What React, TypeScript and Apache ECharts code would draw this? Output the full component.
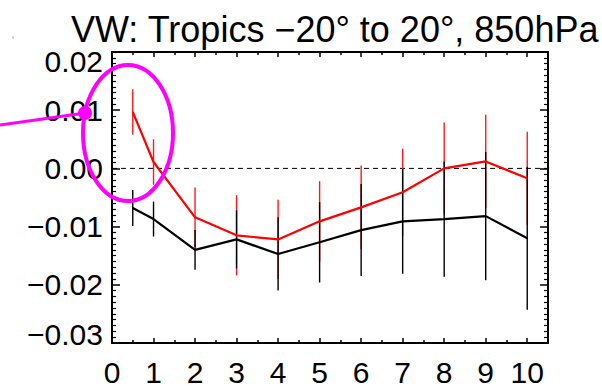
import React, { useEffect, useRef } from "react";
import * as echarts from "echarts";

const xs = [0.5, 1, 2, 3, 4, 5, 6, 7, 8, 9, 10];
const redValues = [0.0097, 0.0011, -0.0084, -0.0115, -0.0122, -0.0091, -0.0067, -0.0041, 0.0, 0.0012, -0.0017];
const redErrors = [0.0039, 0.0039, 0.0051, 0.0069, 0.0068, 0.0069, 0.0072, 0.0075, 0.0079, 0.008, 0.008];
const blackValues = [-0.0068, -0.0087, -0.014, -0.0122, -0.0147, -0.0127, -0.0106, -0.0091, -0.0087, -0.0082, -0.012];
const blackErrors = [0.0031, 0.003, 0.0034, 0.005, 0.0063, 0.0069, 0.0079, 0.009, 0.0099, 0.011, 0.0123];
const xTickLabels = ["0", "1", "2", "3", "4", "5", "6", "7", "8", "9", "10"];
const zeroLine = [[0, 0], [10.5, 0]];
const titleText = "VW: Tropics \u221220\u00b0 to 20\u00b0, 850hPa";

const FONT = "'Liberation Sans', Arial, Helvetica, sans-serif";

function fmtY(v: number): string {
  const r = Math.round(v * 1000) / 1000;
  const s = Math.abs(r).toFixed(2);
  const txt = (r < -1e-9 ? "\u2212" : "") + s;
  if (Math.abs(r - 0.02) < 1e-9) return "{top|" + txt + "}";
  if (Math.abs(r + 0.03) < 1e-9) return "{bot|" + txt + "}";
  return txt;
}

function errRender(color: string) {
  return (params: any, api: any) => {
    const x = api.value(0);
    const y = api.value(1);
    const e = api.value(2);
    const a = api.coord([x, y + e]);
    const b = api.coord([x, y - e]);
    return {
      type: "line",
      shape: { x1: a[0], y1: a[1], x2: b[0], y2: b[1] },
      style: { stroke: color, lineWidth: 1.4 },
    };
  };
}

export default function App() {
  const ref = useRef<HTMLDivElement>(null);
  useEffect(() => {
    if (!ref.current) return;
    const chart = echarts.init(ref.current, undefined, { renderer: "svg" });
    const labelStyle = { fontSize: 30, color: "#000", fontFamily: FONT };
    const xAxisBase = {
      type: "value",
      min: 0,
      max: 10.5,
      interval: 1,
      axisLine: { show: true, onZero: false, lineStyle: { color: "#000", width: 2 } },
      axisTick: { show: true, inside: true, length: 5, lineStyle: { color: "#000", width: 1.5 } },
      minorTick: { show: true, splitNumber: 2, length: 3, lineStyle: { color: "#000", width: 1.5 } },
      splitLine: { show: false },
      minorSplitLine: { show: false },
    };
    const yAxisBase = {
      type: "value",
      min: -0.03,
      max: 0.02,
      interval: 0.01,
      axisLine: { show: true, onZero: false, lineStyle: { color: "#000", width: 2 } },
      axisTick: { show: true, inside: true, length: 8, lineStyle: { color: "#000", width: 1.5 } },
      minorTick: { show: true, splitNumber: 10, length: 4, lineStyle: { color: "#000", width: 1.2 } },
      splitLine: { show: false },
      minorSplitLine: { show: false },
    };
    chart.setOption({
      animation: false,
      title: {
        text: titleText,
        left: 66,
        top: 6,
        textStyle: { fontSize: 36, fontWeight: "normal", color: "#000", fontFamily: FONT },
      },
      grid: { left: 112, right: 54, top: 52, bottom: 43, containLabel: false },
      xAxis: [
        {
          ...xAxisBase,
          position: "bottom",
          axisLabel: {
            ...labelStyle,
            margin: 14,
            formatter: (v: number) => {
              const i = Math.round(v);
              return Math.abs(v - i) < 1e-9 && i >= 0 && i < xTickLabels.length ? xTickLabels[i] : "";
            },
          },
        },
        { ...xAxisBase, position: "top", axisLabel: { show: false } },
      ],
      yAxis: [
        {
          ...yAxisBase,
          position: "left",
          axisLabel: {
            ...labelStyle,
            margin: 9,
            formatter: fmtY,
            rich: {
              top: { fontSize: 30, color: "#000", fontFamily: FONT, padding: [18, 0, 0, 0] },
              bot: { fontSize: 30, color: "#000", fontFamily: FONT, padding: [0, 0, 18, 0] },
            },
          },
        },
        { ...yAxisBase, position: "right", axisLabel: { show: false } },
      ],
      series: [
        {
          type: "line",
          data: zeroLine,
          symbol: "none",
          silent: true,
          lineStyle: { color: "#000", width: 1, type: [5, 4] },
          z: 1,
        },
        {
          type: "custom",
          renderItem: errRender("#ff1a1a"),
          data: xs.map((x, i) => [x, redValues[i], redErrors[i]]),
          encode: { x: 0, y: 1 },
          z: 2,
        },
        {
          type: "custom",
          renderItem: errRender("#000"),
          data: xs.map((x, i) => [x, blackValues[i], blackErrors[i]]),
          encode: { x: 0, y: 1 },
          z: 3,
        },
        {
          type: "line",
          data: xs.map((x, i) => [x, blackValues[i]]),
          symbol: "none",
          lineStyle: { color: "#000", width: 2.2 },
          z: 4,
        },
        {
          type: "line",
          data: xs.map((x, i) => [x, redValues[i]]),
          symbol: "none",
          lineStyle: { color: "#ff0000", width: 2.2 },
          z: 5,
        },
      ],
      graphic: [
        {
          type: "line",
          shape: { x1: 13, y1: 36, x2: 13, y2: 39 },
          style: { stroke: "#aaa", lineWidth: 1 },
          z: 100,
        },
        {
          type: "ellipse",
          shape: { cx: 128, cy: 133, rx: 45, ry: 68 },
          style: { fill: "none", stroke: "#ff00ff", lineWidth: 4 },
          z: 100,
        },
        {
          type: "line",
          shape: { x1: 0, y1: 125, x2: 85, y2: 113 },
          style: { stroke: "#ff00ff", lineWidth: 3 },
          z: 100,
        },
        {
          type: "circle",
          shape: { cx: 85, cy: 113, r: 7 },
          style: { fill: "#ff00ff" },
          z: 100,
        },
      ],
    });
    return () => chart.dispose();
  }, []);
  return (
    <div
      ref={ref}
      style={{ position: "fixed", left: 0, top: 0, width: 602, height: 387, background: "#fff" }}
    />
  );
}
